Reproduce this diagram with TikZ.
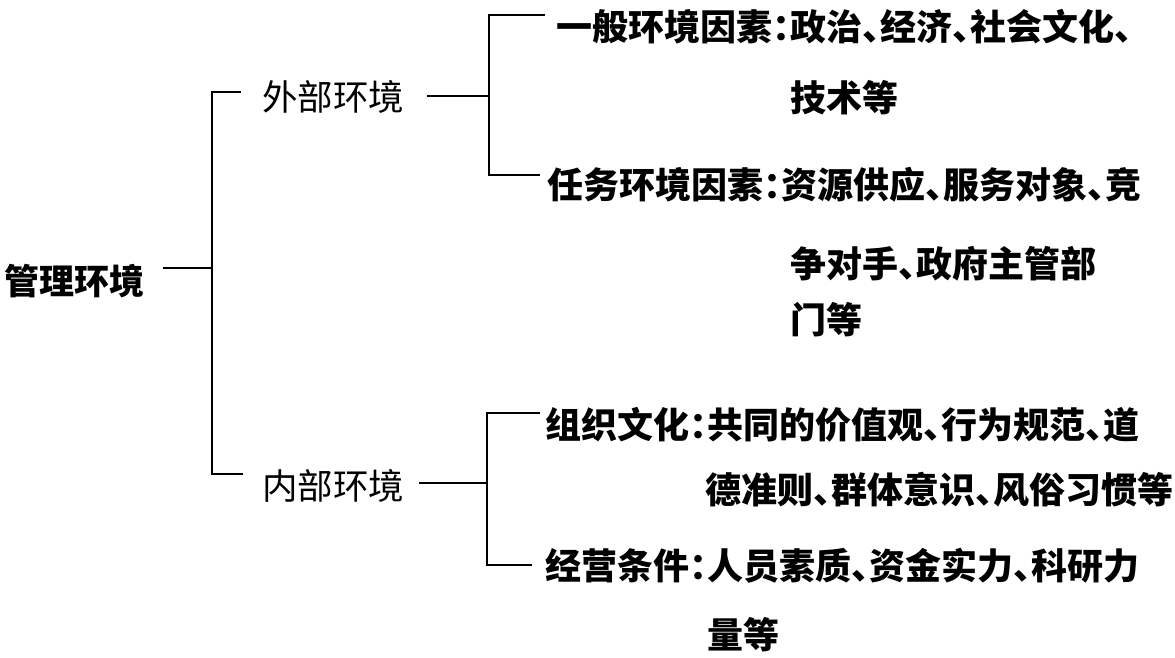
\documentclass[tikz,border=0pt]{standalone}
\usepackage{fontspec}
\newfontfamily\cjk[RawFeature=+halt]{Noto Sans CJK SC}
\usetikzlibrary{positioning}

\begin{document}
\begin{tikzpicture}[x=1pt,y=-1pt,link/.style={line width=2pt},
	top/.style={anchor=west,inner sep=0pt,font=\cjk\bfseries\fontsize{35}{40}\selectfont},
	mid/.style={anchor=west,inner sep=0pt,font=\cjk\fontsize{35.5}{40}\selectfont},
	item/.style={anchor=west,inner sep=0pt,font=\cjk\bfseries\fontsize{36}{40}\selectfont}]

\useasboundingbox (0,0) rectangle (1175,658);

\node[top]   (root)   at (4,281)      {管理环境};
\node[mid]   (ext)    at (262,97)     {外部环境};
\node[mid]   (int)    at (262,486)    {内部环境};

\node[item]  (gen)    at (556,27)     {一般环境因素：政治、经济、社会文化、};
\node[item]  (gen2)   at (790,98)     {技术等};
\node[item]  (task)   at (547,185)    {任务环境因素：资源供应、服务对象、竞};
\node[item]  (task2)  at (790,264)    {争对手、政府主管部};
\node[item]  (task3)  at (790,320)    {门等};

\node[item]  (cult)   at (545,425)    {组织文化：共同的价值观、行为规范、道};
\node[item]  (cult2)  at (705,490)    {德准则、群体意识、风俗习惯等};
\node[item]  (cond)   at (545,566)    {经营条件：人员素质、资金实力、科研力};
\node[item]  (cond2)  at (707,635)    {量等};

\coordinate (rj) at (212,268);
\coordinate (ej) at (489,96);
\coordinate (ij) at (487,483);

\draw[link] ([shift={(19,-13)}]root.east) -- (rj);
\draw[link] (rj) |- ([shift={(-21,-5)}]ext.west);
\draw[link] (rj) |- ([shift={(-19,-12)}]int.west);

\draw[link] ([shift={(23,-1)}]ext.east) -- (ej);
\draw[link] (ej) |- ([shift={(-11,-12)}]gen.west);
\draw[link] (ej) |- ([shift={(-7,-10)}]task.west);

\draw[link] ([shift={(15,-3)}]int.east) -- (ij);
\draw[link] (ij) |- ([shift={(-5,-12)}]cult.west);
\draw[link] (ij) |- ([shift={(-13,-1)}]cond.west);

\end{tikzpicture}
\end{document}
